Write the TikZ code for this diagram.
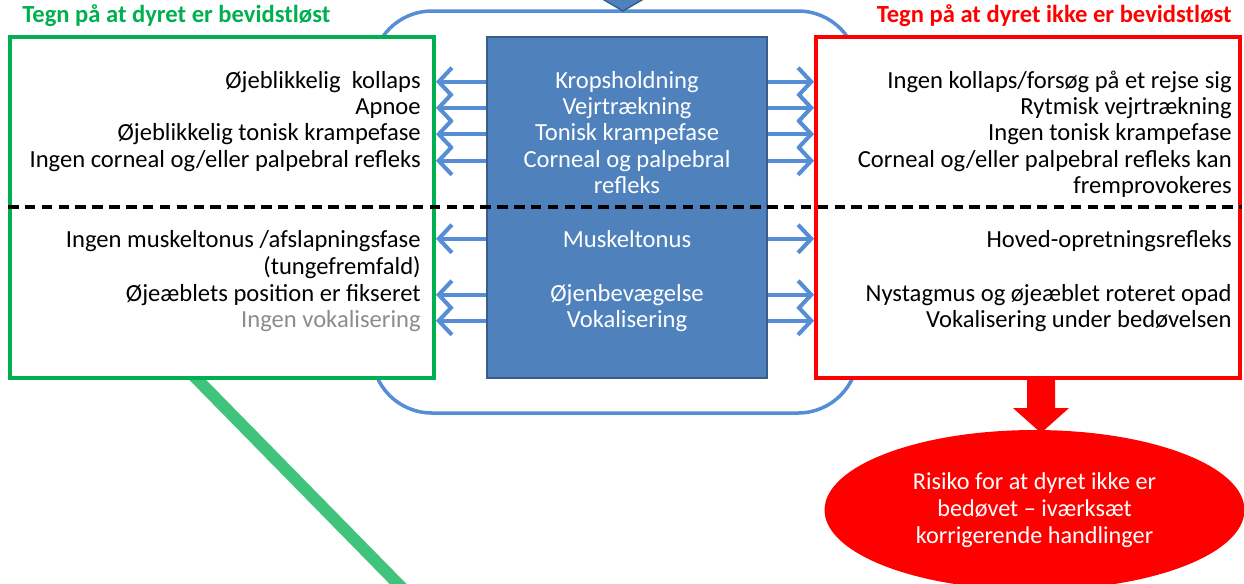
\documentclass[tikz,border=0pt]{standalone}
\usepackage{fontspec}
\setmainfont{Carlito}
\definecolor{signgreen}{RGB}{0, 176, 80}
\definecolor{signred}{RGB}{255, 0, 0}
\definecolor{midblue}{RGB}{79, 129, 189}
\definecolor{midedge}{RGB}{56, 93, 138}
\definecolor{linkblue}{RGB}{85, 142, 213}
\definecolor{trailgreen}{RGB}{64, 196, 124}
\definecolor{faintgray}{RGB}{140, 140, 140}
\usetikzlibrary{arrows.meta, positioning, shapes.geometric}

\tikzset{
  rowtext/.style={font=\fontsize{14}{16}\selectfont, inner sep=0pt},
  link/.style={line width=2.3pt, linkblue, -{Straight Barb[length=7.5pt, width=16pt]}},
}

\begin{document}
\begin{tikzpicture}[x=0.02cm, y=-0.02cm]
  \useasboundingbox (0, 0) rectangle (1244, 583);

  % Green trail (behind the box)
  \coordinate (trailtop) at (190, 372);
  \coordinate (trailend) at (404, 590);
  \draw[line width=0.24cm, trailgreen] (trailtop) -- (trailend);

  % Blue frame round the middle
  \draw[linkblue, line width=2pt, rounded corners=1.2cm] (372, 11) rectangle (858, 413);

  % Arrow from above
  \draw[midedge, fill=midblue, line width=0.8pt] (599, -3) -- (647, -3) -- (623, 11) -- cycle;

  % Boxes
  \node[draw=signgreen, fill=white, line width=2.3pt, minimum width=8.48cm, minimum height=6.82cm] (cons) at (222, 207.5) {};
  \node[draw=signred, fill=white, line width=2.3pt, minimum width=8.48cm, minimum height=6.82cm] (aware) at (1028, 207.5) {};
  \node[draw=midedge, fill=midblue, line width=0.9pt, minimum width=5.6cm, minimum height=6.82cm] (mid) at (627, 207.5) {};

  % Titles
  \node[font=\fontsize{14}{16}\selectfont\bfseries, text=signgreen, anchor=mid west, inner sep=0pt] (tcons) at (22, 18) {Tegn på at dyret er bevidstløst};
  \node[font=\fontsize{14}{16}\selectfont\bfseries, text=signred, anchor=mid east, inner sep=0pt] (taware) at (1232, 18) {Tegn på at dyret ikke er bevidstløst};

  % Left column
  \node[rowtext, anchor=mid east] (l1) at (421, 84) {Øjeblikkelig~ kollaps};
  \node[rowtext, anchor=mid east] (l2) at (421, 110) {Apnoe};
  \node[rowtext, anchor=mid east] (l3) at (421, 136.5) {Øjeblikkelig tonisk krampefase};
  \node[rowtext, anchor=mid east] (l4) at (421, 163) {Ingen corneal og/eller palpebral refleks};
  \node[rowtext, anchor=mid east] (l5) at (421, 243) {Ingen muskeltonus /afslapningsfase};
  \node[rowtext, anchor=mid east] (l6) at (421, 270) {(tungefremfald)};
  \node[rowtext, anchor=mid east] (l7) at (421, 297) {Øjeæblets position er fikseret};
  \node[rowtext, anchor=mid east, text=faintgray] (l8) at (421, 323) {Ingen vokalisering};

  % Middle column
  \node[rowtext, anchor=mid, text=white] (c1) at (627, 84) {Kropsholdning};
  \node[rowtext, anchor=mid, text=white] (c2) at (627, 110) {Vejrtrækning};
  \node[rowtext, anchor=mid, text=white] (c3) at (627, 136.5) {Tonisk krampefase};
  \node[rowtext, anchor=mid, text=white] (c4) at (627, 163) {Corneal og palpebral};
  \node[rowtext, anchor=mid, text=white] (c5) at (627, 189) {refleks};
  \node[rowtext, anchor=mid, text=white] (c6) at (627, 243) {Muskeltonus};
  \node[rowtext, anchor=mid, text=white] (c7) at (627, 297) {Øjenbevægelse};
  \node[rowtext, anchor=mid, text=white] (c8) at (627, 323) {Vokalisering};

  % Right column
  \node[rowtext, anchor=mid east] (r1) at (1232, 84) {Ingen kollaps/forsøg på et rejse sig};
  \node[rowtext, anchor=mid east] (r2) at (1232, 110) {Rytmisk vejrtrækning};
  \node[rowtext, anchor=mid east] (r3) at (1232, 136.5) {Ingen tonisk krampefase};
  \node[rowtext, anchor=mid east] (r4) at (1232, 163) {Corneal og/eller palpebral refleks kan};
  \node[rowtext, anchor=mid east] (r5) at (1232, 189) {fremprovokeres};
  \node[rowtext, anchor=mid east] (r6) at (1232, 243) {Hoved-opretningsrefleks};
  \node[rowtext, anchor=mid east] (r7) at (1232, 297) {Nystagmus og øjeæblet roteret opad};
  \node[rowtext, anchor=mid east] (r8) at (1232, 323) {Vokalisering under bedøvelsen};

  % Arrows to the left
  \draw[link] (mid.west |- c1) -- (cons.east |- c1);
  \draw[link] (mid.west |- c2) -- (cons.east |- c2);
  \draw[link] (mid.west |- c3) -- (cons.east |- c3);
  \draw[link] (mid.west |- c4) -- (cons.east |- c4);
  \draw[link] (mid.west |- c6) -- (cons.east |- c6);
  \draw[link] (mid.west |- c7) -- (cons.east |- c7);
  \draw[link] (mid.west |- c8) -- (cons.east |- c8);

  % Arrows to the right
  \draw[link] (mid.east |- c1) -- (aware.west |- c1);
  \draw[link] (mid.east |- c2) -- (aware.west |- c2);
  \draw[link] (mid.east |- c3) -- (aware.west |- c3);
  \draw[link] (mid.east |- c4) -- (aware.west |- c4);
  \draw[link] (mid.east |- c6) -- (aware.west |- c6);
  \draw[link] (mid.east |- c7) -- (aware.west |- c7);
  \draw[link] (mid.east |- c8) -- (aware.west |- c8);

  % Dashed divider
  \coordinate (divy) at (0, 207);
  \draw[line width=2.3pt, dash pattern=on 6pt off 3.6pt] (cons.west |- divy) -- (aware.east |- divy);

  % Outcome
  \fill[signred] (1027, 376) -- (1055, 376) -- (1055, 408) -- (1069, 408) -- (1041, 433) -- (1013, 408) -- (1027, 408) -- cycle;
  \node[ellipse, fill=signred, minimum width=8.4cm, minimum height=3.2cm, align=center, text=white, font=\fontsize{13.8}{15.4}\selectfont] (risk) at (1034.5, 510) {Risiko for at dyret ikke er\\bedøvet -- iværksæt\\korrigerende handlinger};
\end{tikzpicture}
\end{document}
